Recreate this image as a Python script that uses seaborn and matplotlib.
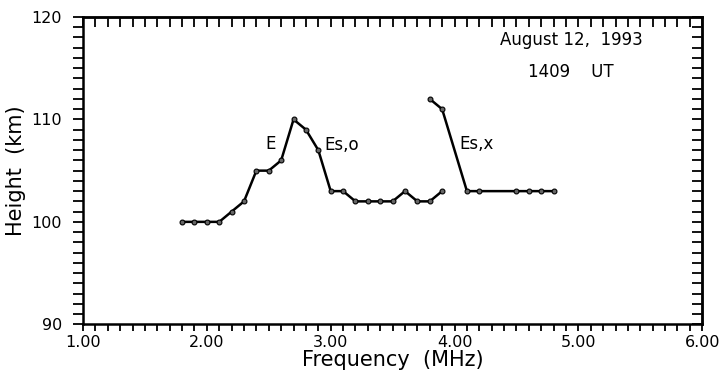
import numpy as np
import pandas as pd
import seaborn as sns
import matplotlib.pyplot as plt
from matplotlib.ticker import MultipleLocator, FormatStrFormatter

# E / Es,o trace
freq_o = [1.8, 1.9, 2.0, 2.1, 2.2, 2.3, 2.4, 2.5, 2.6, 2.7, 2.8,
          2.9, 3.0, 3.1, 3.2, 3.3, 3.4, 3.5, 3.6, 3.7, 3.8, 3.9]
height_o = [100, 100, 100, 100, 101, 102, 105, 105, 106, 110, 109,
            107, 103, 103, 102, 102, 102, 102, 103, 102, 102, 103]

# Es,x trace
freq_x = [3.8, 3.9, 4.1, 4.2, 4.5, 4.6, 4.7, 4.8]
height_x = [112, 111, 103, 103, 103, 103, 103, 103]

x_ticks = [1.0, 2.0, 3.0, 4.0, 5.0, 6.0]
y_ticks = [90, 100, 110, 120]


def main():
    sns.set_style("ticks")
    plt.rcParams["font.family"] = ["DejaVu Sans"]
    plt.rcParams["text.color"] = "black"
    plt.rcParams["axes.labelcolor"] = "black"

    fig = plt.figure(figsize=(7.2, 3.8), dpi=100)
    ax = fig.add_axes([0.1153, 0.1466, 0.86, 0.8087])

    df_o = pd.DataFrame({"f": freq_o, "h": height_o})
    df_x = pd.DataFrame({"f": freq_x, "h": height_x})
    style = dict(color="black", linewidth=1.8, marker="o", markersize=3.5,
                 markerfacecolor="#666666", markeredgecolor="black",
                 markeredgewidth=0.8, estimator=None, sort=False)
    sns.lineplot(data=df_o, x="f", y="h", ax=ax, **style)
    sns.lineplot(data=df_x, x="f", y="h", ax=ax, **style)

    ax.set_xlim(1.0, 6.0)
    ax.set_ylim(90, 120)
    ax.set_xticks(x_ticks)
    ax.set_yticks(y_ticks)
    ax.xaxis.set_major_formatter(FormatStrFormatter("%.2f"))
    ax.xaxis.set_minor_locator(MultipleLocator(0.1))
    ax.yaxis.set_minor_locator(MultipleLocator(1))
    # left/bottom ticks point outward
    ax.tick_params(which="both", direction="out", width=1.3, color="black",
                   labelsize=11.5, labelcolor="black")
    ax.tick_params(axis="x", which="both", length=5, pad=3)
    ax.tick_params(axis="y", which="both", length=7, pad=8)
    for s in ax.spines.values():
        s.set_linewidth(1.8)
        s.set_color("black")

    # top/right ticks point inward
    top = ax.secondary_xaxis("top")
    top.set_xticks(x_ticks)
    top.xaxis.set_minor_locator(MultipleLocator(0.1))
    top.tick_params(which="both", direction="in", length=7, width=1.3,
                    labeltop=False, color="black")
    top.spines["top"].set_linewidth(1.8)
    right = ax.secondary_yaxis("right")
    right.set_yticks(y_ticks)
    right.yaxis.set_minor_locator(MultipleLocator(1))
    right.tick_params(which="both", direction="in", length=7, width=1.3,
                      labelright=False, color="black")
    right.spines["right"].set_linewidth(1.8)

    ax.set_xlabel("Frequency  (MHz)", fontsize=15, labelpad=0)
    ax.set_ylabel("Height  (km)", fontsize=15, labelpad=4)

    ax.text(2.47, 107.6, "E", fontsize=12, va="center", ha="left")
    ax.text(2.95, 107.5, "Es,o", fontsize=12, va="center", ha="left")
    ax.text(4.04, 107.6, "Es,x", fontsize=12, va="center", ha="left")
    ax.text(4.37, 117.8, "August 12,  1993", fontsize=12, va="center", ha="left")
    ax.text(4.59, 114.6, "1409    UT", fontsize=12, va="center", ha="left")

    fig.savefig("out.png", dpi=100)


if __name__ == "__main__":
    main()
